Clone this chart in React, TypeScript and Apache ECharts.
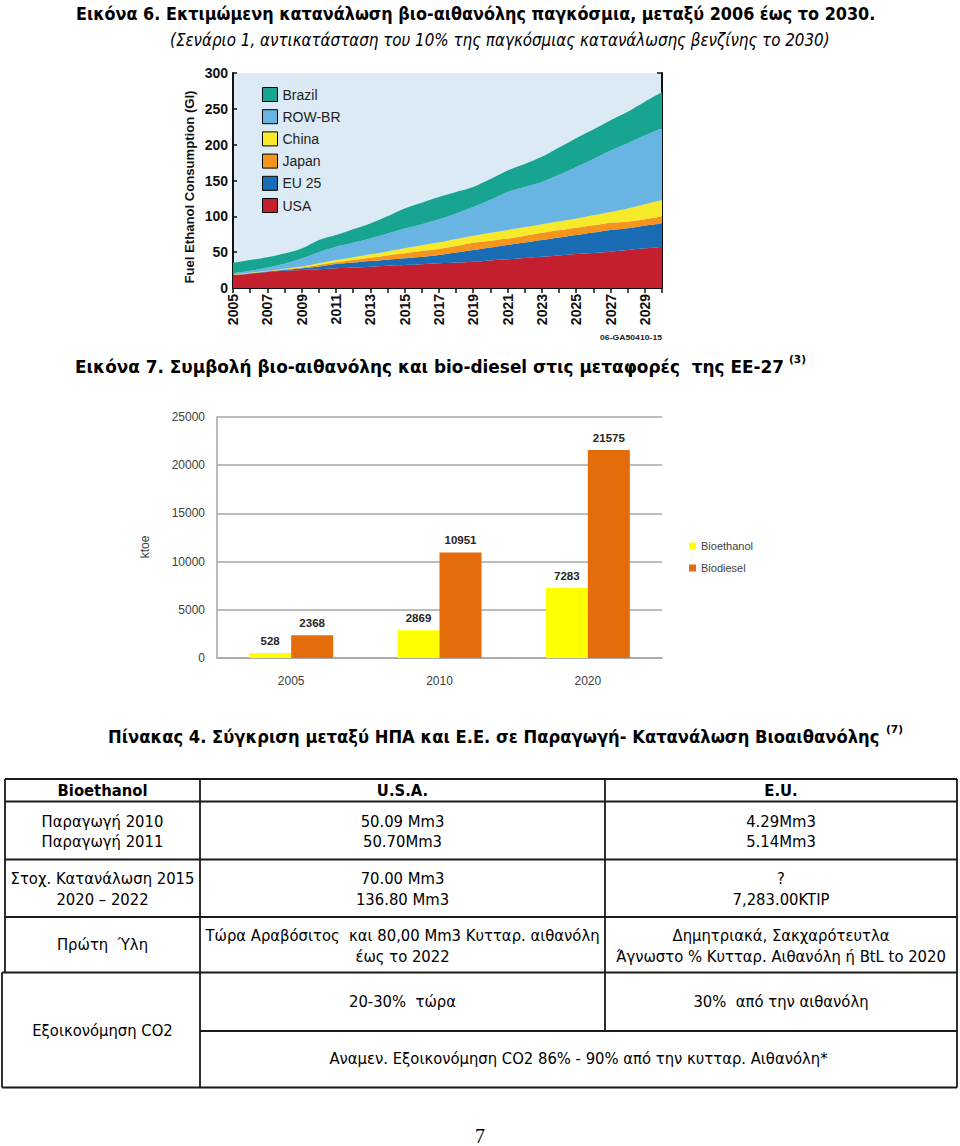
import React, { useEffect, useRef } from "react";
import * as echarts from "echarts";

// ---------- Figure 6: fuel ethanol consumption (stacked areas) ----------
const years = [
  "2005", "2006", "2007", "2008", "2009", "2010", "2011", "2012", "2013",
  "2014", "2015", "2016", "2017", "2018", "2019", "2020", "2021", "2022",
  "2023", "2024", "2025", "2026", "2027", "2028", "2029", "2030",
];
const usa = [18, 20, 22.5, 24, 25, 26, 27.4, 28.5, 29.7, 31, 32, 33, 34.4, 35.5, 36.7, 38.5, 40, 42, 43.7, 45.5, 47.4, 49, 50.7, 53, 55.3, 57.6];
const eu25 = [0.3, 0.4, 0.5, 1, 2.4, 4, 6.1, 7, 8, 8.5, 9.4, 10.5, 11.6, 14, 16.3, 18, 20, 21.5, 23.3, 25, 26.6, 28.5, 30.3, 30.5, 31.7, 32.4];
const japan = [0.3, 0.4, 0.5, 1, 1.1, 2, 2.3, 3.5, 4.6, 6, 7, 8, 8.4, 9, 10, 9.5, 9, 9.5, 10, 10, 10, 10, 10, 9, 9, 9.4];
const china = [0.4, 0.5, 0.5, 1, 1.5, 2.5, 3.2, 4, 4.7, 5.5, 6.9, 8, 9.3, 10, 10, 11, 12, 12, 12, 12.5, 13, 14, 15, 18.5, 21, 23.3];
const rowBr = [1.5, 2.7, 4.5, 7, 11, 15.5, 18.6, 20, 22, 25, 27.7, 29.5, 32.1, 35.5, 40, 46, 53, 56, 59, 65, 72, 78.5, 86, 91, 96, 100.3];
const brazil = [14.5, 15, 14.5, 14, 14, 17, 16.4, 19, 21, 24, 28, 30, 31.2, 30, 28, 29, 30, 32, 35, 38, 40, 41, 42, 44, 47, 50];
const areaLegend = ["Brazil", "ROW-BR", "China", "Japan", "EU 25", "USA"];

// ---------- Figure 7: EU-27 bioethanol / biodiesel (ktoe) ----------
const barCategories = ["2005", "2010", "2020"];
const bioethanol = [528, 2869, 7283];
const biodiesel = [2368, 10951, 21575];

// ---------- Texts ----------
const heading6 = "Εικόνα 6. Εκτιμώμενη κατανάλωση βιο-αιθανόλης παγκόσμια, μεταξύ 2006 έως το 2030.";
const heading6sub = "(Σενάριο 1, αντικατάσταση του 10% της παγκόσμιας κατανάλωσης βενζίνης το 2030)";
const heading7 = "Εικόνα 7. Συμβολή βιο-αιθανόλης και bio-diesel στις μεταφορές  της ΕΕ-27";
const heading7ref = "(3)";
const table4Title = "Πίνακας 4. Σύγκριση μεταξύ ΗΠΑ και Ε.Ε. σε Παραγωγή- Κατανάλωση Βιοαιθανόλης";
const table4Ref = "(7)";
const areaAxisName = "Fuel Ethanol Consumption (Gl)";
const barAxisName = "ktoe";
const creditText = "06-GA50410-15";
const pageNumber = "7";

// ---------- Table 4 ----------
const tableHeader = ["Bioethanol", "U.S.A.", "E.U."];
const rowLabels = [
  ["Παραγωγή 2010", "Παραγωγή 2011"],
  ["Στοχ. Κατανάλωση 2015", "2020 – 2022"],
  ["Πρώτη  Ύλη"],
  ["Εξοικονόμηση CO2"],
];
const usaCol = [
  ["50.09 Mm3", "50.70Mm3"],
  ["70.00 Mm3", "136.80 Mm3"],
  ["Τώρα Αραβόσιτος  και 80,00 Mm3 Κυτταρ. αιθανόλη", "έως το 2022"],
  ["20-30%  τώρα"],
];
const euCol = [
  ["4.29Mm3", "5.14Mm3"],
  ["?", "7,283.00KTIP"],
  ["Δημητριακά, Σακχαρότευτλα", "Άγνωστο % Κυτταρ. Αιθανόλη ή BtL to 2020"],
  ["30%  από την αιθανόλη"],
];
const co2Note = "Αναμεν. Εξοικονόμηση CO2 86% - 90% από την κυτταρ. Αιθανόλη*";

const DEJAVU = '"DejaVu Sans", Verdana, sans-serif';
const ARIAL = '"Liberation Sans", Arial, sans-serif';

let measureCtx: CanvasRenderingContext2D | null = null;
function measureWidth(text: string, font: string): number {
  if (!measureCtx) measureCtx = document.createElement("canvas").getContext("2d");
  if (!measureCtx) return text.length * 8;
  measureCtx.font = font;
  return measureCtx.measureText(text).width;
}

type TextSpec = {
  text: string;
  x: number;
  y: number;
  size: number;
  bold?: boolean;
  italic?: boolean;
  family?: string;
  align?: "left" | "center" | "right";
  width?: number;
  scale?: number;
  fill?: string;
  rotation?: number;
};

function fontOf(t: { size: number; bold?: boolean; italic?: boolean; family?: string }) {
  return `${t.italic ? "italic " : ""}${t.bold ? "bold " : ""}${t.size}px ${t.family || DEJAVU}`;
}

function makeText(t: TextSpec) {
  const font = fontOf(t);
  let sx = t.scale ?? 1;
  if (t.width) sx = t.width / measureWidth(t.text, font);
  return {
    type: "text",
    x: t.x,
    y: t.y,
    scaleX: sx,
    rotation: t.rotation || 0,
    silent: true,
    style: {
      text: t.text,
      font,
      fill: t.fill || "#000",
      textAlign: t.align || "left",
      textVerticalAlign: "middle",
    },
  };
}

function makeLine(x1: number, y1: number, x2: number, y2: number) {
  return {
    type: "line",
    silent: true,
    shape: { x1, y1, x2, y2 },
    style: { stroke: "#1a1a1a", lineWidth: 1.8 },
  };
}

function buildGraphics() {
  const els: any[] = [];
  // headings
  els.push(makeText({ text: heading6, x: 76, y: 14, size: 17, bold: true, width: 800 }));
  els.push(makeText({ text: heading6sub, x: 170, y: 40, size: 17, italic: true, width: 660 }));
  els.push(makeText({ text: heading7, x: 75, y: 367, size: 17, bold: true, width: 710 }));
  els.push(makeText({ text: heading7ref, x: 789, y: 359, size: 10, bold: true, width: 17 }));
  els.push(makeText({ text: table4Title, x: 108, y: 737, size: 17, bold: true, width: 772 }));
  els.push(makeText({ text: table4Ref, x: 886, y: 729, size: 10, bold: true, width: 17 }));

  // axis names / credit
  els.push(
    makeText({ text: areaAxisName, x: 190, y: 187, size: 13, bold: true, family: ARIAL, align: "center", width: 193, rotation: Math.PI / 2, fill: "#111" })
  );
  els.push(makeText({ text: barAxisName, x: 145, y: 547, size: 12, family: ARIAL, align: "center", rotation: Math.PI / 2, fill: "#404040" }));
  els.push(makeText({ text: creditText, x: 662, y: 338, size: 7, bold: true, family: ARIAL, align: "right", width: 62, fill: "#222" }));

  // table lines
  const L = 5, C1 = 200, C2 = 605, R = 957;
  const yTop = 779, yHead = 801.5, yR1 = 859.5, yR2 = 917, yR3 = 972.5, yMid = 1031, yBot = 1087.5;
  [yTop, yHead, yR1, yR2].forEach((y) => els.push(makeLine(L, y, R, y)));
  els.push(makeLine(2, yR3, R, yR3));
  els.push(makeLine(C1, yMid, R, yMid));
  els.push(makeLine(2, yBot, R, yBot));
  els.push(makeLine(L, yTop, L, yR3));
  els.push(makeLine(2, yR3, 2, yBot));
  els.push(makeLine(C1, yTop, C1, yBot));
  els.push(makeLine(C2, yTop, C2, yMid));
  els.push(makeLine(R, yTop, R, yBot));

  // table texts
  const bodyScale = 122 / measureWidth("Παραγωγή 2010", fontOf({ size: 16 }));
  const headScale = 90 / measureWidth("Bioethanol", fontOf({ size: 16, bold: true }));
  const cx = [(L + C1) / 2, (C1 + C2) / 2, (C2 + R) / 2];
  tableHeader.forEach((h, i) =>
    els.push(makeText({ text: h, x: cx[i], y: 790.5, size: 16, bold: true, align: "center", scale: headScale }))
  );
  const twoLineY = [
    [821.5, 842],
    [879, 899.5],
    [935.5, 956.5],
  ];
  for (let r = 0; r < 3; r++) {
    const ys = twoLineY[r];
    const lbl = rowLabels[r];
    if (lbl.length === 1) {
      els.push(makeText({ text: lbl[0], x: cx[0], y: 945, size: 16, align: "center", scale: bodyScale }));
    } else {
      lbl.forEach((s, k) => els.push(makeText({ text: s, x: cx[0], y: ys[k], size: 16, align: "center", scale: bodyScale })));
    }
    usaCol[r].forEach((s, k) => els.push(makeText({ text: s, x: cx[1], y: ys[k], size: 16, align: "center", scale: bodyScale })));
    euCol[r].forEach((s, k) => els.push(makeText({ text: s, x: cx[2], y: ys[k], size: 16, align: "center", scale: bodyScale })));
  }
  els.push(makeText({ text: rowLabels[3][0], x: cx[0], y: 1031, size: 16, align: "center", scale: bodyScale }));
  els.push(makeText({ text: usaCol[3][0], x: cx[1], y: 1002, size: 16, align: "center", scale: bodyScale }));
  els.push(makeText({ text: euCol[3][0], x: cx[2], y: 1002, size: 16, align: "center", scale: bodyScale }));
  els.push(makeText({ text: co2Note, x: (C1 + R) / 2, y: 1059, size: 16, align: "center", scale: bodyScale }));

  // page number
  els.push(makeText({ text: pageNumber, x: 480, y: 1136, size: 20, family: '"Liberation Serif", "DejaVu Serif", serif', align: "center" }));
  return els;
}

function areaSeries(name: string, data: number[], color: string) {
  return {
    name,
    type: "line",
    stack: "fuel",
    xAxisIndex: 0,
    yAxisIndex: 0,
    data,
    symbol: "none",
    smooth: 0.3,
    lineStyle: { width: 0 },
    areaStyle: { color, opacity: 1 },
    itemStyle: { color },
    emphasis: { disabled: true },
  };
}

function buildOption() {
  const black = "#111";
  return {
    animation: false,
    backgroundColor: "#ffffff",
    textStyle: { fontFamily: ARIAL },
    grid: [
      { left: 233, top: 73, width: 429, height: 215, show: true, backgroundColor: "#dceaf6", borderWidth: 0 },
      { left: 217, top: 417, width: 445, height: 241, show: false },
    ],
    xAxis: [
      {
        type: "category",
        gridIndex: 0,
        data: years,
        boundaryGap: false,
        axisLine: { lineStyle: { color: black, width: 2 } },
        axisTick: { inside: true, interval: 0, length: 5, lineStyle: { color: black, width: 1.5 } },
        axisLabel: {
          interval: (i: number) => i % 2 === 0 && i < years.length - 1,
          rotate: 90,
          fontWeight: "bold",
          fontSize: 14,
          color: black,
          margin: 6,
        },
        splitLine: { show: false },
      },
      {
        type: "category",
        gridIndex: 0,
        position: "top",
        data: years,
        boundaryGap: false,
        axisLine: { lineStyle: { color: black, width: 2 } },
        axisTick: { inside: true, interval: 0, length: 5, lineStyle: { color: black, width: 1.5 } },
        axisLabel: { show: false },
        splitLine: { show: false },
      },
      {
        type: "category",
        gridIndex: 1,
        data: barCategories,
        axisLine: { lineStyle: { color: "#a6a6a6", width: 1.5 } },
        axisTick: { show: false },
        axisLabel: { fontSize: 12, color: "#404040", margin: 17 },
        splitLine: { show: false },
      },
    ],
    yAxis: [
      {
        type: "value",
        gridIndex: 0,
        min: 0,
        max: 300,
        interval: 50,
        axisLine: { show: true, lineStyle: { color: black, width: 2 } },
        axisTick: { show: true, inside: true, length: 4, lineStyle: { color: black, width: 1.5 } },
        axisLabel: { fontWeight: "bold", fontSize: 14, color: black, margin: 5 },
        splitLine: { show: false },
      },
      {
        type: "value",
        gridIndex: 0,
        position: "right",
        min: 0,
        max: 300,
        interval: 50,
        axisLine: { show: true, lineStyle: { color: black, width: 2 } },
        axisTick: { show: true, inside: true, length: 5, lineStyle: { color: black, width: 1.5 } },
        axisLabel: { show: false },
        splitLine: { show: false },
      },
      {
        type: "value",
        gridIndex: 1,
        min: 0,
        max: 25000,
        interval: 5000,
        axisLine: { show: true, lineStyle: { color: "#a6a6a6", width: 1.5 } },
        axisTick: { show: false },
        axisLabel: { fontSize: 12, color: "#404040", margin: 12, formatter: (v: number) => String(v) },
        splitLine: { lineStyle: { color: "#a6a6a6", width: 1.5 } },
      },
    ],
    legend: [
      {
        data: areaLegend,
        orient: "vertical",
        left: 262,
        top: 87,
        padding: 0,
        itemWidth: 15,
        itemHeight: 14,
        itemGap: 7.2,
        icon: "rect",
        selectedMode: false,
        itemStyle: { borderColor: "#000", borderWidth: 1 },
        textStyle: { fontSize: 14, color: "#231f20", lineHeight: 14 },
      },
      {
        data: ["Bioethanol", "Biodiesel"],
        orient: "vertical",
        left: 689,
        top: 540.5,
        padding: 0,
        itemWidth: 7,
        itemHeight: 7,
        itemGap: 11,
        icon: "rect",
        selectedMode: false,
        textStyle: { fontSize: 11, color: "#404040", lineHeight: 11 },
      },
    ],
    series: [
      areaSeries("USA", usa, "#c41f2e"),
      areaSeries("EU 25", eu25, "#1a6db5"),
      areaSeries("Japan", japan, "#f7941d"),
      areaSeries("China", china, "#f6ea2a"),
      areaSeries("ROW-BR", rowBr, "#68b5e4"),
      areaSeries("Brazil", brazil, "#17a591"),
      {
        name: "Bioethanol",
        type: "bar",
        xAxisIndex: 2,
        yAxisIndex: 2,
        data: bioethanol,
        barWidth: 42,
        barGap: "0%",
        itemStyle: { color: "#ffff00" },
        label: { show: true, position: "top", distance: 6, fontWeight: "bold", fontSize: 11.5, color: "#262626" },
      },
      {
        name: "Biodiesel",
        type: "bar",
        xAxisIndex: 2,
        yAxisIndex: 2,
        data: biodiesel,
        barWidth: 42,
        barGap: "0%",
        itemStyle: { color: "#e46c0a" },
        label: { show: true, position: "top", distance: 6, fontWeight: "bold", fontSize: 11.5, color: "#262626" },
      },
    ],
    graphic: { elements: buildGraphics() },
  };
}

export default function App() {
  const ref = useRef<HTMLDivElement>(null);
  useEffect(() => {
    document.body.style.margin = "0";
    if (!ref.current) return;
    const chart = echarts.init(ref.current, undefined, { renderer: "svg", width: 960, height: 1146 });
    chart.setOption(buildOption() as any);
    return () => chart.dispose();
  }, []);
  return (
    <div
      ref={ref}
      style={{ position: "absolute", left: 0, top: 0, width: 960, height: 1146, background: "#fff" }}
    />
  );
}
